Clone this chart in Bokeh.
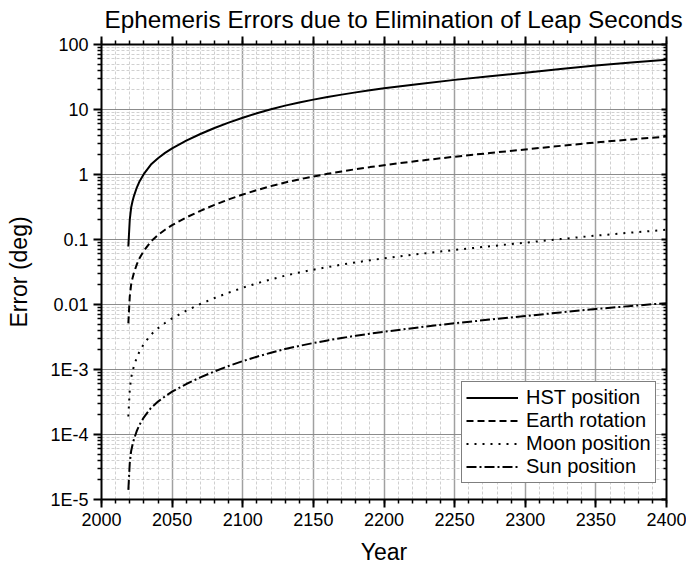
from bokeh.plotting import figure
from bokeh.models import (LinearAxis, LogAxis, FixedTicker, Legend, LegendItem, Range1d)
from bokeh.embed import file_html
from bokeh.resources import INLINE

# ---- data ----
years = [2019, 2020, 2021, 2022, 2023, 2025, 2027, 2030, 2035, 2040, 2045, 2050,
         2060, 2070, 2080, 2090, 2100, 2110, 2120, 2130, 2140, 2150, 2160, 2170,
         2180, 2190, 2200, 2225, 2250, 2275, 2300, 2325, 2350, 2375, 2400]
hst_position = [0.078, 0.20, 0.31, 0.39, 0.47, 0.63, 0.79, 1.02, 1.42, 1.78, 2.15, 2.53,
                3.32, 4.2, 5.19, 6.29, 7.47, 8.74, 10.07, 11.47, 12.81, 14.18, 15.55, 16.94,
                18.34, 19.75, 21.16, 24.75, 28.56, 32.53, 36.9, 41.9, 47.4, 52.7, 58.3]
earth_rotation = [0.00513, 0.01316, 0.0204, 0.02566, 0.03092, 0.04145, 0.05197, 0.0671,
                  0.09342, 0.1171, 0.1414, 0.1664, 0.2184, 0.2763, 0.3414, 0.4138, 0.4914,
                  0.575, 0.6625, 0.7546, 0.8428, 0.9329, 1.023, 1.1145, 1.2066, 1.299,
                  1.392, 1.628, 1.879, 2.140, 2.428, 2.757, 3.118, 3.467, 3.836]
moon_position = [1.889e-4, 4.843e-4, 7.506e-4, 9.443e-4, 1.138e-3, 1.525e-3, 1.913e-3,
                 2.470e-3, 3.438e-3, 4.310e-3, 5.206e-3, 6.126e-3, 8.039e-3, 0.01017,
                 0.01257, 0.01523, 0.01809, 0.02116, 0.02438, 0.02777, 0.03102, 0.03433,
                 0.03765, 0.04102, 0.04441, 0.04782, 0.05123, 0.05993, 0.06915, 0.07877,
                 0.08935, 0.1015, 0.1148, 0.1276, 0.1412]
sun_position = [1.405e-5, 3.604e-5, 5.586e-5, 7.027e-5, 8.468e-5, 1.135e-4, 1.423e-4,
                1.838e-4, 2.559e-4, 3.207e-4, 3.874e-4, 4.559e-4, 5.982e-4, 7.568e-4,
                9.351e-4, 1.133e-3, 1.346e-3, 1.575e-3, 1.814e-3, 2.067e-3, 2.308e-3,
                2.555e-3, 2.802e-3, 3.052e-3, 3.305e-3, 3.559e-3, 3.813e-3, 4.459e-3,
                5.146e-3, 5.861e-3, 6.649e-3, 7.550e-3, 8.541e-3, 9.495e-3, 0.0105]
series_names = ["HST position", "Earth rotation", "Moon position", "Sun position"]

x_ticks = [2000, 2050, 2100, 2150, 2200, 2250, 2300, 2350, 2400]
y_ticks = [1e-5, 1e-4, 1e-3, 0.01, 0.1, 1, 10, 100]
y_tick_labels = ["1E-5", "1E-4", "1E-3", "0.01", "0.1", "1", "10", "100"]

title_text = "Ephemeris Errors due to Elimination of Leap Seconds"
x_label = "Year"
y_label = "Error (deg)"

FONT = "Liberation Sans"

x_minor = list(range(2000, 2401, 10))
y_minor = [m * 10.0 ** k for k in range(-5, 2) for m in range(2, 10)]
xticker = FixedTicker(ticks=x_ticks, minor_ticks=x_minor)
yticker = FixedTicker(ticks=y_ticks, minor_ticks=y_minor)

p = figure(frame_width=565, frame_height=455, y_axis_type="log",
           x_range=Range1d(2000, 2400), y_range=Range1d(1e-5, 100),
           output_backend="svg", toolbar_location=None,
           min_border_left=101, min_border_right=20, min_border_top=44, min_border_bottom=70,
           background_fill_color="white", border_fill_color="white")
p.outline_line_color = None

p.title.text = title_text
p.title.text_font = FONT
p.title.text_font_size = "24.3px"
p.title.text_font_style = "normal"
p.title.text_color = "black"
p.title.align = "left"
p.title.offset = 3
p.title.standoff = 7


def style_axis(ax):
    ax.axis_line_width = 2
    ax.axis_line_color = "black"
    ax.major_tick_line_width = 2
    ax.minor_tick_line_width = 1.5
    ax.major_tick_line_color = "black"
    ax.minor_tick_line_color = "black"
    ax.major_label_text_font = FONT
    ax.major_label_text_font_size = "18px"
    ax.major_label_text_color = "black"
    ax.axis_label_text_font = FONT
    ax.axis_label_text_font_size = "23px"
    ax.axis_label_text_font_style = "normal"
    ax.axis_label_text_color = "black"


# bottom axis
xa = p.xaxis[0]
style_axis(xa)
xa.ticker = xticker
xa.axis_label = x_label
xa.major_tick_out = 8
xa.major_tick_in = 0
xa.minor_tick_out = 4
xa.minor_tick_in = 0
xa.major_label_standoff = 5
xa.axis_label_standoff = 10

# left axis
ya = p.yaxis[0]
style_axis(ya)
ya.ticker = yticker
ya.axis_label = y_label
ya.major_label_overrides = {t: l for t, l in zip(y_ticks, y_tick_labels)}
ya.major_tick_out = 8
ya.major_tick_in = 0
ya.minor_tick_out = 4
ya.minor_tick_in = 0
ya.major_label_standoff = 5
ya.axis_label_standoff = 15

# top axis (ticks outward, labels hidden)
top = LinearAxis(ticker=xticker)
style_axis(top)
top.major_label_text_font_size = "1px"
top.major_label_text_color = None
top.major_label_standoff = 0
top.major_tick_out = 8
top.major_tick_in = 0
top.minor_tick_out = 4
top.minor_tick_in = 0
p.add_layout(top, "above")

# right axis (ticks inward, labels hidden)
right = LogAxis(ticker=yticker)
style_axis(right)
right.major_label_text_font_size = "1px"
right.major_label_text_color = None
right.major_label_standoff = 0
right.major_tick_out = 0
right.major_tick_in = 5
right.minor_tick_out = 0
right.minor_tick_in = 3
p.add_layout(right, "right")

# grids
p.xgrid.ticker = xticker
p.ygrid.ticker = yticker
p.xgrid.grid_line_color = "#a0a0a0"
p.xgrid.grid_line_width = 1.5
p.ygrid.grid_line_color = "#8c8c8c"
p.ygrid.grid_line_width = 1
for g in (p.xgrid, p.ygrid):
    g.minor_grid_line_color = "#d0d0d0"
    g.minor_grid_line_width = 1
    g.minor_grid_line_dash = "3 2"

styles = [("solid", 2), ("7 4", 2), ("2 6", 2), ("10 3 2 3", 2)]
all_vals = [hst_position, earth_rotation, moon_position, sun_position]
items = []
for name, vals, (dash, w) in zip(series_names, all_vals, styles):
    r = p.line(years, vals, line_color="black", line_width=w, line_dash=dash)
    items.append(LegendItem(label=name, renderers=[r]))

legend = Legend(items=items, location=(360, 16))
legend.label_text_font = FONT
legend.label_text_font_size = "20px"
legend.label_text_color = "black"
legend.glyph_width = 52
legend.glyph_height = 21
legend.label_height = 21
legend.label_standoff = 8
legend.padding = 4
legend.spacing = 0
legend.margin = 0
legend.border_line_color = "black"
legend.border_line_width = 1
legend.background_fill_color = "white"
legend.background_fill_alpha = 1
p.add_layout(legend, "center")

open("out.html", "w").write(file_html(p, INLINE))
